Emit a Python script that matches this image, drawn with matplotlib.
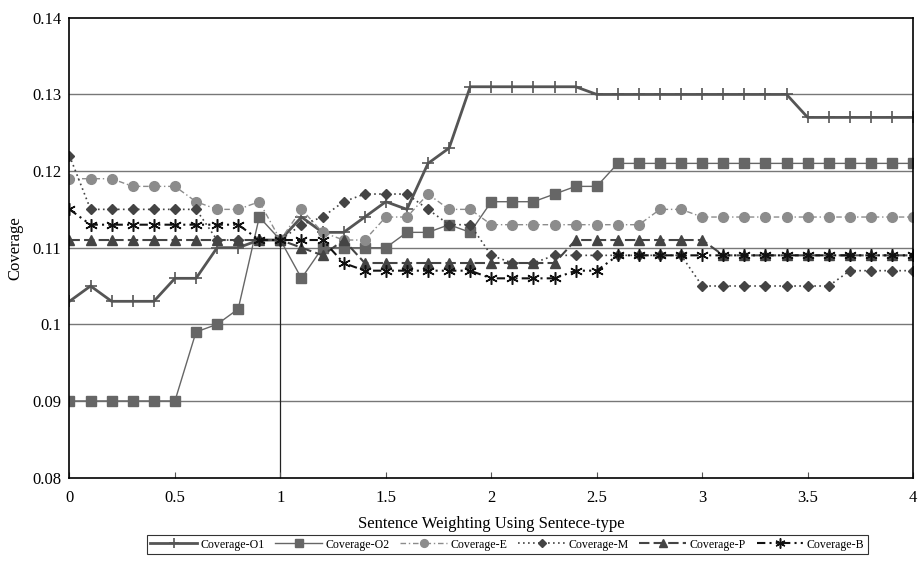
import numpy as np
import matplotlib.pyplot as plt

plt.rcParams['font.family'] = ['Liberation Serif', 'DejaVu Serif']

x = np.round(np.arange(0, 4.01, 0.1), 1)

cov_o1 = [0.103, 0.105, 0.103, 0.103, 0.103, 0.106, 0.106, 0.110, 0.110, 0.111,
          0.111, 0.114, 0.112, 0.112, 0.114, 0.116, 0.115, 0.121, 0.123, 0.131,
          0.131, 0.131, 0.131, 0.131, 0.131, 0.130, 0.130, 0.130, 0.130, 0.130,
          0.130, 0.130, 0.130, 0.130, 0.130, 0.127, 0.127, 0.127, 0.127, 0.127,
          0.127]
cov_o2 = [0.090, 0.090, 0.090, 0.090, 0.090, 0.090, 0.099, 0.100, 0.102, 0.114,
          0.111, 0.106, 0.110, 0.110, 0.110, 0.110, 0.112, 0.112, 0.113, 0.112,
          0.116, 0.116, 0.116, 0.117, 0.118, 0.118, 0.121, 0.121, 0.121, 0.121,
          0.121, 0.121, 0.121, 0.121, 0.121, 0.121, 0.121, 0.121, 0.121, 0.121,
          0.121]
cov_e = [0.119, 0.119, 0.119, 0.118, 0.118, 0.118, 0.116, 0.115, 0.115, 0.116,
         0.111, 0.115, 0.112, 0.111, 0.111, 0.114, 0.114, 0.117, 0.115, 0.115,
         0.113, 0.113, 0.113, 0.113, 0.113, 0.113, 0.113, 0.113, 0.115, 0.115,
         0.114, 0.114, 0.114, 0.114, 0.114, 0.114, 0.114, 0.114, 0.114, 0.114,
         0.114]
cov_m = [0.122, 0.115, 0.115, 0.115, 0.115, 0.115, 0.115, 0.111, 0.111, 0.111,
         0.111, 0.113, 0.114, 0.116, 0.117, 0.117, 0.117, 0.115, 0.113, 0.113,
         0.109, 0.108, 0.108, 0.109, 0.109, 0.109, 0.109, 0.109, 0.109, 0.109,
         0.105, 0.105, 0.105, 0.105, 0.105, 0.105, 0.105, 0.107, 0.107, 0.107,
         0.107]
cov_p = [0.111, 0.111, 0.111, 0.111, 0.111, 0.111, 0.111, 0.111, 0.111, 0.111,
         0.111, 0.110, 0.109, 0.111, 0.108, 0.108, 0.108, 0.108, 0.108, 0.108,
         0.108, 0.108, 0.108, 0.108, 0.111, 0.111, 0.111, 0.111, 0.111, 0.111,
         0.111, 0.109, 0.109, 0.109, 0.109, 0.109, 0.109, 0.109, 0.109, 0.109,
         0.109]
cov_b = [0.115, 0.113, 0.113, 0.113, 0.113, 0.113, 0.113, 0.113, 0.113, 0.111,
         0.111, 0.111, 0.111, 0.108, 0.107, 0.107, 0.107, 0.107, 0.107, 0.107,
         0.106, 0.106, 0.106, 0.106, 0.107, 0.107, 0.109, 0.109, 0.109, 0.109,
         0.109, 0.109, 0.109, 0.109, 0.109, 0.109, 0.109, 0.109, 0.109, 0.109,
         0.109]

fig = plt.figure(figsize=(9.19, 5.74), dpi=100)
ax = fig.add_axes([0.0756, 0.168, 0.918, 0.801])

for yv in [0.09, 0.10, 0.11, 0.12, 0.13]:
    ax.axhline(yv, color='#777777', lw=1, zorder=0)
ax.vlines(1, 0.08, 0.111, color='#222222', lw=0.9, zorder=1)

ax.plot(x, cov_o1, color='#555555', lw=2, marker='+', ms=9, mew=1.2,
        label='Coverage-O1')
ax.plot(x, cov_o2, color='#666666', lw=1, marker='s', ms=6.5,
        label='Coverage-O2')
ax.plot(x, cov_e, color='#8c8c8c', lw=1, ls=(0, (4, 2, 1, 2)), marker='o', ms=7,
        label='Coverage-E')
ax.plot(x, cov_m, color='#444444', lw=1.2, ls=(0, (1, 2)), marker='D', ms=5,
        label='Coverage-M')
ax.plot(x, cov_p, color='#444444', lw=1.5, ls=(0, (5, 2)), marker='^', ms=7,
        label='Coverage-P')
ax.plot(x, cov_b, color='#111111', lw=1.5, ls=(0, (4, 2, 1, 2, 1, 2)),
        marker=(6, 2, 0), ms=9, mew=1.1, label='Coverage-B')

ax.set_xlim(0, 4)
ax.set_ylim(0.08, 0.14)
ax.set_xticks([0, 0.5, 1, 1.5, 2, 2.5, 3, 3.5, 4])
ax.set_xticklabels(['0', '0.5', '1', '1.5', '2', '2.5', '3', '3.5', '4'])
ax.set_yticks([0.08, 0.09, 0.10, 0.11, 0.12, 0.13, 0.14])
ax.set_yticklabels(['0.08', '0.09', '0.1', '0.11', '0.12', '0.13', '0.14'])
ax.tick_params(axis='x', direction='in', length=4, labelsize=12, pad=9,
               color='#555555')
ax.tick_params(axis='y', length=0, labelsize=12, pad=6)
for s in ax.spines.values():
    s.set_color('black')
    s.set_linewidth(1.2)

ax.set_xlabel('Sentence Weighting Using Sentece-type', fontsize=12, labelpad=7)
ax.set_ylabel('Coverage', fontsize=12, labelpad=6)

leg = ax.legend(loc='upper center', bbox_to_anchor=(0.519, -0.112), ncol=6,
                fontsize=8.6, frameon=True, fancybox=False, handlelength=3.9,
                columnspacing=0.9, handletextpad=0.3, borderpad=0.3,
                markerscale=0.8)
leg.get_frame().set_edgecolor('black')
leg.get_frame().set_linewidth(0.8)

fig.savefig('out.png', dpi=100)
